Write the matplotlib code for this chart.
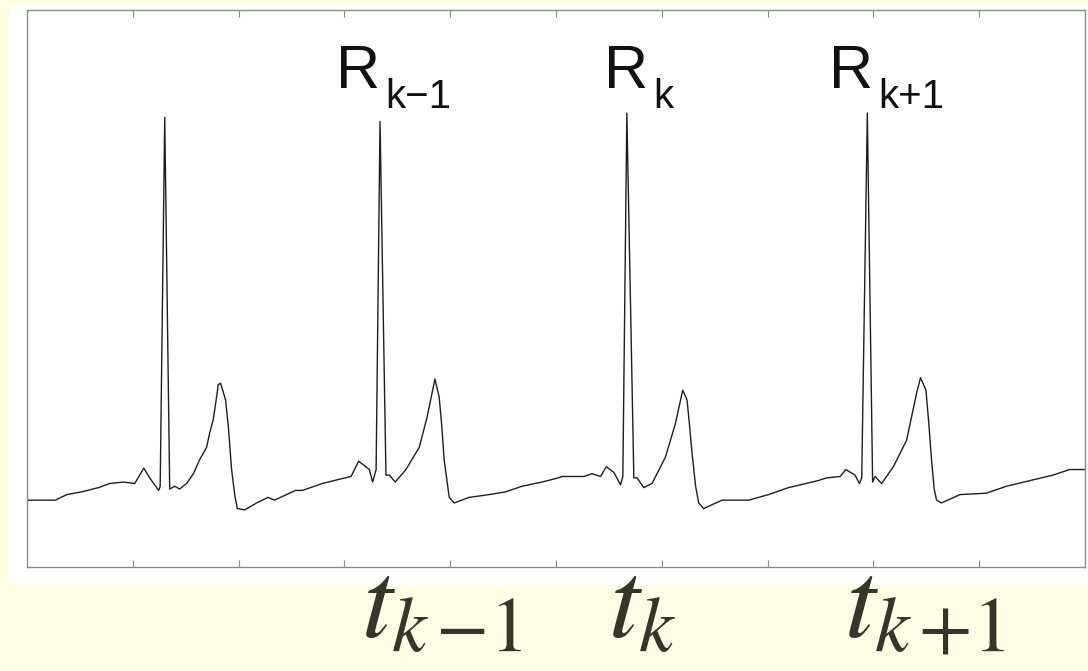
import matplotlib
matplotlib.use("Agg")
import matplotlib.pyplot as plt
from matplotlib.patches import Rectangle
from matplotlib.transforms import blended_transform_factory

plt.rcParams['mathtext.fontset'] = 'stix'

# ECG trace (time in tick units, amplitude in arbitrary units)
t = [0.000, 0.267, 0.377, 0.519, 0.676, 0.783, 0.912, 1.019, 1.104, 1.160,
     1.226, 1.245, 1.259, 1.302, 1.349, 1.396, 1.443, 1.509, 1.573, 1.632,
     1.698, 1.726, 1.761, 1.792, 1.808, 1.830, 1.877, 1.903, 1.934, 1.965,
     1.988, 2.057, 2.170, 2.280, 2.340, 2.538,
     2.604, 2.792, 2.953, 3.063, 3.135, 3.236, 3.267, 3.300, 3.337, 3.393,
     3.425, 3.481, 3.582, 3.708, 3.783, 3.856, 3.896, 3.920, 3.943, 3.991,
     4.038, 4.179, 4.368, 4.526, 4.679, 4.868, 5.022,
     5.057, 5.264, 5.340, 5.422, 5.475, 5.547, 5.610, 5.632, 5.670, 5.736,
     5.767, 5.830, 5.908, 6.035, 6.129, 6.198, 6.239, 6.262, 6.286, 6.320,
     6.349, 6.396, 6.569, 6.821, 7.009, 7.198, 7.475,
     7.559, 7.686, 7.739, 7.827, 7.868, 7.890, 7.943, 7.993, 8.016, 8.078,
     8.189, 8.314, 8.409, 8.446, 8.497, 8.522, 8.550, 8.575, 8.597, 8.644,
     8.818, 9.069, 9.258, 9.478, 9.698, 9.855, 10.000]
v = [-0.02, -0.02, 0.02, 0.04, 0.07, 0.10, 0.11, 0.10, 0.21, 0.14,
     0.07, 0.05, 0.08, 2.73, 0.06, 0.08, 0.06, 0.10, 0.17, 0.27,
     0.36, 0.46, 0.56, 0.72, 0.81, 0.82, 0.70, 0.51, 0.20, 0.01,
     -0.08, -0.09, -0.04, 0.00, -0.02, 0.05,
     0.05, 0.10, 0.13, 0.15, 0.26, 0.20, 0.11, 0.20, 2.70, 0.16,
     0.16, 0.11, 0.20, 0.36, 0.58, 0.85, 0.72, 0.52, 0.27, 0.00,
     -0.04, 0.00, 0.02, 0.04, 0.08, 0.11, 0.14,
     0.15, 0.15, 0.17, 0.15, 0.22, 0.18, 0.09, 0.15, 2.76, 0.14,
     0.14, 0.07, 0.10, 0.29, 0.53, 0.77, 0.70, 0.52, 0.32, 0.08,
     -0.04, -0.08, -0.02, -0.02, 0.02, 0.07, 0.12,
     0.14, 0.15, 0.20, 0.16, 0.10, 0.14, 2.76, 0.11, 0.15, 0.10,
     0.22, 0.41, 0.75, 0.86, 0.77, 0.55, 0.27, 0.06, -0.02, -0.04,
     0.02, 0.03, 0.08, 0.12, 0.16, 0.20, 0.20]

r_subs = ['k\u22121', 'k', 'k+1']
r_label_x = [2.92, 5.45, 7.58]
t_labels = [r'$t_{k\,{-}1}$', r'$t_k$', r'$t_{k\,{+}1}$']
t_label_x = [3.16, 5.49, 7.72]
ticks = [1, 2, 3, 4, 5, 6, 7, 8, 9]

fig = plt.figure(figsize=(10.88, 6.71), dpi=100)
fig.patch.set_facecolor('#fffde4')
# white panel behind the plot
fig.patches.append(Rectangle((0.0083, 0.128), 0.9917, 0.863, transform=fig.transFigure,
                             facecolor='white', edgecolor='none', zorder=-1))

ax = fig.add_axes([0.0248, 0.155, 0.9724, 0.830])
ax.plot(t, v, color='#1e1e1e', lw=1.0)
ax.set_xlim(0, 10)
ax.set_ylim(-0.5, 3.5)
ax.set_xticks(ticks)
ax.set_yticks([])
ax.tick_params(axis='x', direction='in', top=True, bottom=True, length=5,
               color='#8a8a8a', labelbottom=False)
for s in ax.spines.values():
    s.set_color('#8a8a8a')
    s.set_linewidth(1.0)

for sub, x in zip(r_subs, r_label_x):
    r = ax.text(x, 2.94, 'R', fontsize=44, family='Liberation Sans',
                color='#111111', ha='left', va='baseline')
    ax.annotate(sub, xy=(1, 0), xycoords=r, xytext=(4, -5), textcoords='offset points',
                fontsize=29, family='Liberation Sans', color='#111111',
                ha='left', va='baseline')

tr = blended_transform_factory(ax.transData, fig.transFigure)
for lab, x in zip(t_labels, t_label_x):
    ax.text(x, 0.05, lab, transform=tr, fontsize=80, color='#35352c',
            ha='left', va='baseline', clip_on=False)

fig.savefig('out.png', dpi=100, facecolor=fig.get_facecolor())
